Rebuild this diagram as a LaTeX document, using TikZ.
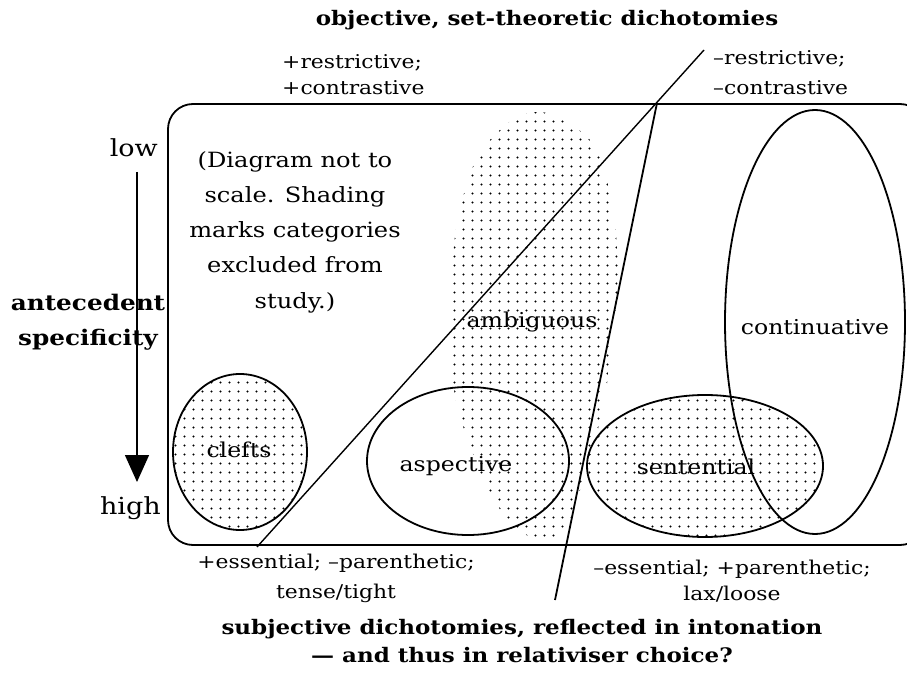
\documentclass[tikz,border=0pt]{standalone}
\usepackage{fontspec}
\setmainfont{DejaVu Serif}[FakeStretch=1.15]
\usetikzlibrary{patterns,arrows.meta,shapes.geometric}
\pgfdeclarepatternformonly{sparsedots}{\pgfpoint{-1pt}{-1pt}}{\pgfpoint{10pt}{10pt}}{\pgfpoint{9pt}{9pt}}{\pgfpathcircle{\pgfpoint{4.5pt}{4.5pt}}{1.05pt}\pgfusepath{fill}}
\begin{document}
\begin{tikzpicture}[x=1pt,y=-1pt,
  outline/.style={line width=1.8pt},
  thinline/.style={line width=1.4pt},
  shaded/.style={pattern=sparsedots, pattern color=black},
  region/.style={ellipse, draw, outline, inner sep=0pt},
  lbl/.style={font=\fontsize{20.5}{24}\selectfont, inner sep=0pt},
  axislbl/.style={font=\fontsize{23.5}{28}\selectfont, inner sep=0pt},
  small/.style={font=\fontsize{19}{26}\selectfont, inner sep=0pt, align=left},
  smallwide/.style={font=\fontsize{19}{30}\selectfont, inner sep=0pt, align=left},
  bigbold/.style={font=\fontsize{20}{28}\selectfont\bfseries, inner sep=0pt, align=center},
  axisbold/.style={font=\fontsize{21.5}{35}\selectfont\bfseries, inner sep=0pt, align=center},
  note/.style={font=\fontsize{21}{35.3}\selectfont, inner sep=0pt, align=center}]
\clip (0,0) rectangle (907,684);
\fill[white] (0,0) rectangle (907,684);

% ambiguous shaded region
\fill[shaded] plot[smooth cycle, tension=0.7] coordinates {
  (537,112) (588,138) (607,180) (617,250) (614,330) (600,420)
  (580,490) (560,535) (530,537) (495,502) (470,445) (453,380)
  (453,260) (465,190) (490,140)};

% frame
\draw[outline, rounded corners=25pt] (168,104) rectangle (925,545);

% regions
\node[region, shaded, minimum width=134pt, minimum height=156pt] (clefts) at (240,452) {};
\node[region, minimum width=202pt, minimum height=148pt] (aspective) at (468,461) {};
\node[region, shaded, minimum width=236pt, minimum height=142pt] (sentential) at (705,466) {};
\node[region, minimum width=180pt, minimum height=424pt] (continuative) at (815,322) {};

\node[lbl] (lclefts) at (239,450) {clefts};
\node[lbl] (laspective) at (456,466) {aspective};
\node[lbl] (lsentential) at (696,467) {sentential};
\node[lbl] (lcontinuative) at (815,327) {continuative};
\node[lbl] (lambiguous) at (532,322) {ambiguous};

% dichotomy lines
\coordinate (objA) at (257,547);
\coordinate (objB) at (704,50);
\coordinate (subA) at (555,600);
\coordinate (subB) at (657,103);
\draw[thinline] (objA) -- (objB);
\draw[outline] (subA) -- (subB);

% axis
\node[axislbl, anchor=east] (low) at (158,148) {low};
\node[axislbl, anchor=east] (high) at (161,508) {high};
\coordinate (axT) at (137,172);
\coordinate (axB) at (137,482);
\draw[line width=1.4pt, -{Triangle[width=24pt,length=27pt]}] (axT) -- (axB);
\node[axisbold] (antecedent) at (88,322) {antecedent\\specificity};

% note
\node[note] (note) at (295,232) {(Diagram not to\\scale. Shading\\marks categories\\excluded from\\study.)};

% top labels
\node[bigbold] (title) at (547,20) {objective, set-theoretic dichotomies};
\node[small, anchor=west] (plusr) at (282,75) {+restrictive;\\+contrastive};
\node[smallwide, anchor=west] (minusr) at (713,73) {\char"2013restrictive;\\\char"2013contrastive};

% bottom labels
\node[smallwide, align=center] (pluse) at (336,578) {+essential; \char"2013parenthetic;\\tense/tight};
\node[small, align=center] (minuse) at (732,581) {\char"2013essential; +parenthetic;\\lax/loose};
\node[bigbold] (subjective) at (522,641) {subjective dichotomies, reflected in intonation\\\char"2014{} and thus in relativiser choice?};
\end{tikzpicture}
\end{document}
